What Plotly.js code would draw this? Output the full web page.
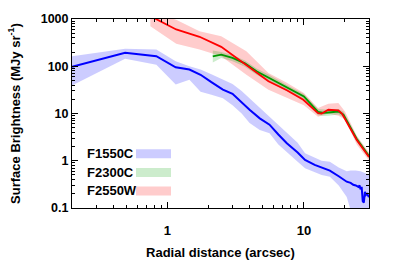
<!DOCTYPE html>
<html>
<head>
<meta charset="utf-8">
<script src="https://cdn.plot.ly/plotly-3.0.1.min.js"></script>
<style>html,body{margin:0;padding:0;background:#fff;}#plot{width:399px;height:266px;}</style>
</head>
<body>
<div id="plot"></div>
<script>
// ---- data ----
var seriesNames = ["F1550C", "F2300C", "F2550W"];

// F1550C
var blueX = [0.2, 0.49, 0.83, 1.15, 1.45, 1.75, 2.1, 2.55, 3.0, 3.5, 4.0, 4.75, 5.6, 6.5, 7.5, 9.0, 10.2, 12, 13.5, 15.5, 18, 20.6, 22, 23, 24, 25.1, 25.6, 26, 26.5, 27, 27.5, 28, 28.5, 29, 30];
var blueY = [98, 192, 163, 95, 85, 66, 46, 32, 26, 17, 12, 7.9, 5.8, 3.6, 2.35, 1.5, 1.04, 0.82, 0.72, 0.62, 0.47, 0.36, 0.34, 0.31, 0.3, 0.28, 0.3, 0.25, 0.28, 0.14, 0.13, 0.22, 0.19, 0.2, 0.17];
var blueBandX = [0.2, 0.49, 0.83, 1.15, 1.45, 1.75, 2.1, 2.55, 3.0, 3.5, 4.0, 4.75, 5.6, 6.5, 7.5, 9.0, 10.2, 12, 13.5, 15.5, 18, 20.6, 22, 24, 26, 28, 30];
var blueUpper = [162, 236, 225, 127, 100, 85, 68, 52, 42, 30, 21, 13, 8.7, 5.8, 4.0, 2.4, 1.44, 1.15, 1.0, 0.95, 0.72, 0.6, 0.62, 0.62, 0.6, 0.55, 0.5];
var blueLower = [39, 145, 108, 41, 52, 29, 25, 21, 15, 10, 6.3, 4.5, 3.8, 2.2, 1.5, 0.95, 0.69, 0.58, 0.5, 0.46, 0.3, 0.17, 0.09, 0.08, 0.08, 0.08, 0.08];

// F2300C
var greenX = [2.15, 2.48, 3.0, 3.7, 4.5, 5.6, 7.5, 10, 12.7, 14, 15.1, 17.9, 19.5, 24.4, 30];
var greenY = [162, 176, 150, 115, 78, 56, 35, 23, 10.8, 10.3, 10.5, 11, 9.5, 2.9, 1.25];
var greenUpper = [215, 200, 172, 132, 90, 65, 40, 26, 12.5, 12, 12, 12.5, 11, 3.3, 1.4];
var greenLower = [120, 150, 128, 98, 66, 47, 30, 19.5, 9.2, 8.8, 9, 9.5, 8.3, 2.5, 1.1];

// F2550W
var redX = [0.75, 0.82, 1.16, 1.45, 1.72, 2.48, 3.0, 3.79, 4.5, 5.5, 7.5, 9.9, 12.7, 13.5, 15.1, 17.9, 19, 24.4, 30];
var redY = [1150, 1000, 600, 490, 420, 257, 171, 108, 72, 48, 31, 19.5, 10.2, 10.0, 12, 11.6, 10, 2.76, 1.2];
var redBandX = [0.75, 1.16, 1.72, 2.48, 3.79, 5.5, 7.5, 10, 12.7, 15.1, 17.9, 20, 24.4, 30];
var redUpper = [1500, 960, 550, 430, 207, 72, 45, 27, 13, 16, 16.6, 11, 3.4, 1.5];
var redLower = [700, 300, 225, 162, 66, 32, 22, 15, 8.5, 10, 9, 7.5, 2.2, 1.0];

// ---- styles ----
var lineColors = ["#0000ff", "#009a00", "#ff0000"];
var bandColors = ["rgba(0,0,255,0.2)", "rgba(0,160,0,0.2)", "rgba(255,0,0,0.2)"];
var swatchColors = ["rgb(204,204,255)", "rgb(204,236,204)", "rgb(255,204,204)"];

function band(x, up, lo, color) {
  return {
    x: x.concat(x.slice().reverse()),
    y: up.concat(lo.slice().reverse()),
    type: "scatter", mode: "lines", fill: "toself",
    fillcolor: color, line: {width: 0, color: "rgba(0,0,0,0)"},
    hoverinfo: "skip", showlegend: false
  };
}
function line(x, y, color, w) {
  return {x: x, y: y, type: "scatter", mode: "lines",
    line: {color: color, width: w}, showlegend: false};
}

var data = [
  band(blueBandX, blueUpper, blueLower, bandColors[0]),
  band(redBandX, redUpper, redLower, bandColors[2]),
  band(greenX, greenUpper, greenLower, bandColors[1]),
  line(blueX, blueY, lineColors[0], 2),
  line(greenX, greenY, lineColors[1], 1.8),
  line(redX, redY, lineColors[2], 1.8)
];

var fam = "Liberation Sans, Arial, sans-serif";
var font = {family: fam, size: 13, color: "#000"};

var shapes = [], annotations = [];
var rowY = [154, 172.5, 191];
var plotTop = 19.5, plotBot = 208, plotL = 72, plotR = 369;
function py(p) { return (plotBot - p) / (plotBot - plotTop); }
function px(p) { return (p - plotL) / (plotR - plotL); }
for (var i = 0; i < 3; i++) {
  shapes.push({type: "rect", xref: "paper", yref: "paper",
    x0: px(136), x1: px(171), y0: py(rowY[i] + 4.5), y1: py(rowY[i] - 4.5),
    fillcolor: swatchColors[i], line: {width: 0}});
  annotations.push({xref: "paper", yref: "paper", x: px(85), y: py(rowY[i]),
    xanchor: "left", yanchor: "middle", showarrow: false,
    text: "<b>" + seriesNames[i] + "</b>", font: {family: fam, size: 13, color: "#000"}});
}

var layout = {
  width: 399, height: 266,
  margin: {l: 72, r: 30, t: 19, b: 58},
  paper_bgcolor: "#fff", plot_bgcolor: "#fff",
  font: font,
  showlegend: false,
  xaxis: {
    type: "log", range: [Math.log10(0.2), Math.log10(30)],
    tickvals: [1, 10], ticktext: ["<b>1</b>", "<b>10</b>"],
    ticks: "inside", ticklen: 6, tickcolor: "#000",
    ticklabelstandoff: 10,
    showline: true, linecolor: "#000", linewidth: 1, mirror: "allticks",
    showgrid: false, zeroline: false,
    minor: {ticks: "inside", ticklen: 3, tickcolor: "#000", tickvals: [0.2,0.3,0.4,0.5,0.6,0.7,0.8,0.9,2,3,4,5,6,7,8,9,20,30], showgrid: false},
    tickfont: {family: fam, size: 13, color: "#000"},
    title: {text: "<b>Radial distance (arcsec)</b>", font: {family: fam, size: 13, color: "#000"}, standoff: 11}
  },
  yaxis: {
    type: "log", range: [-1, 3],
    tickvals: [0.1, 1, 10, 100, 1000], ticktext: ["<b>0.1</b>", "<b>1</b>", "<b>10</b>", "<b>100</b>", "<b>1000</b>"],
    ticks: "inside", ticklen: 6, tickcolor: "#000",
    showline: true, linecolor: "#000", linewidth: 1, mirror: "allticks",
    showgrid: false, zeroline: false,
    minor: {ticks: "inside", ticklen: 3, tickcolor: "#000",
      tickvals: [0.2,0.3,0.4,0.5,0.6,0.7,0.8,0.9,2,3,4,5,6,7,8,9,20,30,40,50,60,70,80,90,200,300,400,500,600,700,800,900], showgrid: false},
    tickfont: {family: fam, size: 12.5, color: "#000"},
    title: {text: "<b>Surface Brightness (MJy sr<sup>-1</sup>)</b>", font: {family: fam, size: 13, color: "#000"}, standoff: 17}
  },
  shapes: shapes,
  annotations: annotations
};

Plotly.newPlot("plot", data, layout, {displayModeBar: false, staticPlot: true});
</script>
</body>
</html>
